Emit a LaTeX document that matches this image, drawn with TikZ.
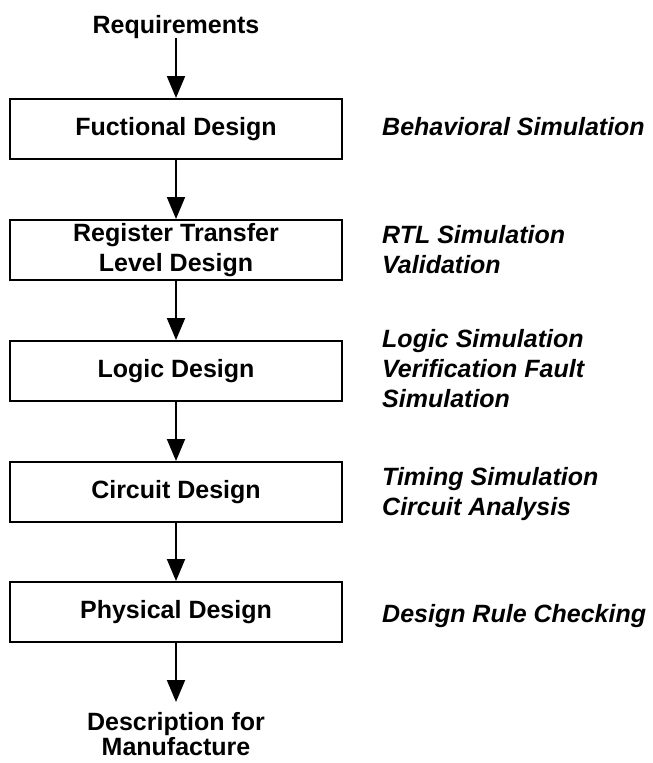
\documentclass[tikz,border=0pt]{standalone}
\usepackage{fontspec}
\setmainfont{Liberation Sans}
\usetikzlibrary{arrows.meta}
\begin{document}
\begin{tikzpicture}[x=1pt,y=-1pt,
  stage/.style={draw, line width=2pt, minimum width=332pt, minimum height=60pt,
    inner sep=0pt, align=center, font=\bfseries\fontsize{25}{30}\selectfont},
  term/.style={inner sep=0pt, align=center, font=\bfseries\fontsize{25}{25}\selectfont},
  tool/.style={anchor=north west, inner sep=0pt, align=left,
    font=\bfseries\itshape\fontsize{25}{30}\selectfont},
  flow/.style={line width=2pt, -{Triangle[length=22pt,width=18pt]}}
]
\useasboundingbox (0,0) rectangle (653,763);

% design flow
\node[term, anchor=base] (req) at (176,33) {Requirements};
\node[stage] (fd)  at (176,129) {Fuctional Design};
\node[stage] (rtl) at (176,250) {Register Transfer\\Level Design};
\node[stage] (ld)  at (176,371) {Logic Design};
\node[stage] (cd)  at (176,492) {Circuit Design};
\node[stage] (pd)  at (176,612) {Physical Design};
\node[term] (dm) at (176,734.5) {Description for\\Manufacture};
\coordinate (dmtop) at (176,702);

\draw[flow] (req.south) -- (fd.north);
\draw[flow] (fd.south) -- (rtl.north);
\draw[flow] (rtl.south) -- (ld.north);
\draw[flow] (ld.south) -- (cd.north);
\draw[flow] (cd.south) -- (pd.north);
\draw[flow] (pd.south) -- (dmtop);

% tools used at each stage
\node[tool] (t1) at (382,117) {Behavioral Simulation};
\node[tool] (t2) at (382,225) {RTL Simulation\\Validation};
\node[tool] (t3) at (382,329) {Logic Simulation\\Verification Fault\\Simulation};
\node[tool] (t4) at (382,467) {Timing Simulation\\Circuit Analysis};
\node[tool] (t5) at (382,604) {Design Rule Checking};
\end{tikzpicture}
\end{document}
